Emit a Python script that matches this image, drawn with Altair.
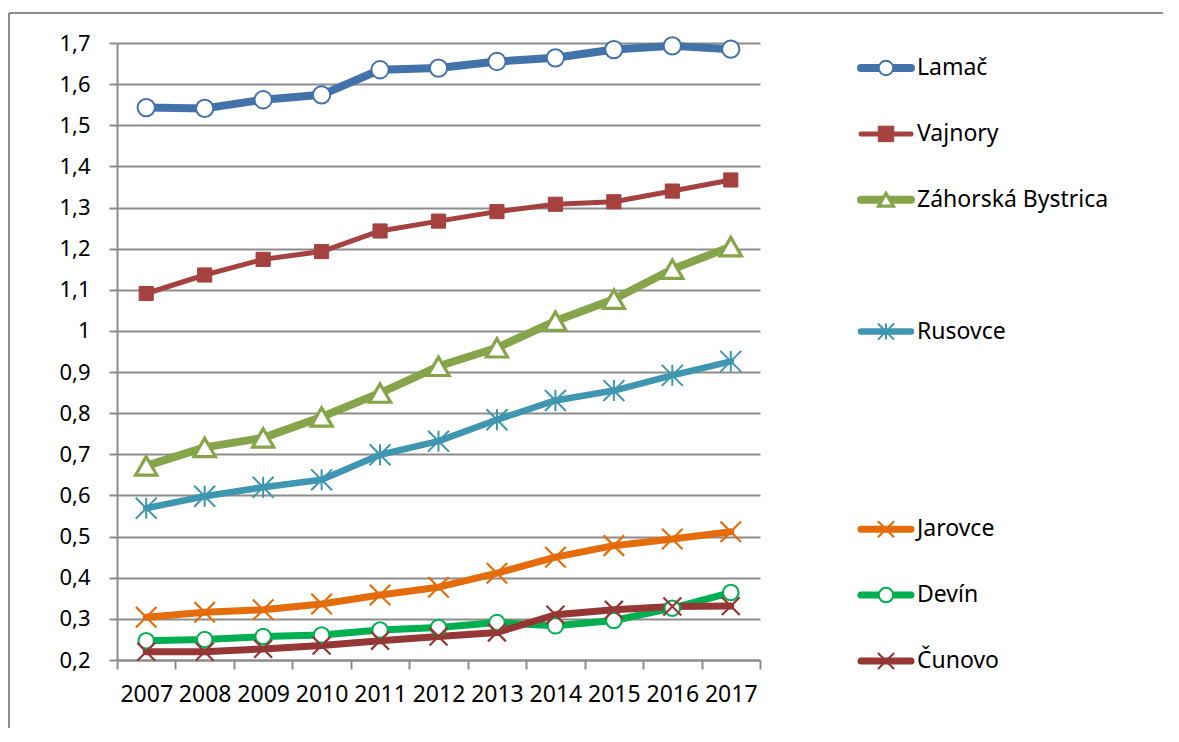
import altair as alt
import pandas as pd

years = ["2007", "2008", "2009", "2010", "2011", "2012", "2013", "2014", "2015", "2016", "2017"]
series_names = ["Lamač", "Vajnory", "Záhorská Bystrica", "Rusovce", "Jarovce", "Devín", "Čunovo"]

lamac = [1.543, 1.541, 1.562, 1.574, 1.635, 1.639, 1.655, 1.664, 1.684, 1.693, 1.685]
vajnory = [1.091, 1.136, 1.174, 1.193, 1.243, 1.267, 1.290, 1.308, 1.314, 1.340, 1.367]
zahorska = [0.672, 0.717, 0.740, 0.791, 0.849, 0.914, 0.959, 1.024, 1.077, 1.150, 1.205]
rusovce = [0.569, 0.598, 0.620, 0.638, 0.699, 0.732, 0.784, 0.831, 0.855, 0.892, 0.926]
jarovce = [0.304, 0.316, 0.322, 0.336, 0.358, 0.377, 0.411, 0.450, 0.478, 0.494, 0.512]
devin = [0.247, 0.250, 0.257, 0.261, 0.273, 0.279, 0.291, 0.283, 0.296, 0.326, 0.364]
cunovo = [0.220, 0.220, 0.227, 0.235, 0.247, 0.257, 0.267, 0.310, 0.322, 0.330, 0.331]

y_ticks = [0.2, 0.3, 0.4, 0.5, 0.6, 0.7, 0.8, 0.9, 1.0, 1.1, 1.2, 1.3, 1.4, 1.5, 1.6, 1.7]
legend_slots = [0, 1, 2, 4, 7, 8, 9]

colors = ["#4272AA", "#A5423F", "#86A54A", "#3E96B0", "#E46C0A", "#00B050", "#953735"]
star = "M0,-1L0,1M-1,-1L1,1M-1,1L1,-1"
xshape = "M-1,-1L1,1M-1,1L1,-1"
shapes = ["circle", "square", "triangle-up", star, xshape, "circle", xshape]
fills = ["#FFFFFF", "#A5423F", "#FFFFFF", "#FFFFFF", "#FFFFFF", "#FFFFFF", "#FFFFFF"]
line_widths = [8, 5, 8, 6.5, 7, 7, 7]
marker_sizes = [300, 200, 450, 440, 420, 240, 320]
legend_marker_sizes = [210, 240, 220, 260, 260, 210, 260]
marker_strokes = [2, 1, 3.2, 2, 2.2, 2, 2.2]

rows = []
for name, vals in zip(series_names, [lamac, vajnory, zahorska, rusovce, jarovce, devin, cunovo]):
    for yr, v in zip(years, vals):
        rows.append({"series": name, "year": yr, "value": v})
df = pd.DataFrame(rows)
leg_df = pd.DataFrame({"series": series_names, "slot": legend_slots})

def sc(rng, kind="ordinal"):
    return alt.Scale(type=kind, domain=series_names, range=rng)

grid_color = "#8C8C8C"

x_enc = alt.X("year:O", scale=alt.Scale(type="band", paddingInner=0, paddingOuter=0),
              axis=alt.Axis(title=None, labelAngle=0, tickBand="extent", tickSize=9,
                            tickColor=grid_color, tickWidth=2, domainColor=grid_color,
                            domainWidth=2, labelFontSize=23, labelPadding=14,
                            labelColor="#000000", grid=False))
y_enc = alt.Y("value:Q", scale=alt.Scale(domain=[0.2, 1.7], nice=False, zero=False),
              axis=alt.Axis(title=None, values=y_ticks,
                            labelExpr="replace(format(datum.value, '.1~f'), '.', ',')",
                            tickSize=8, tickColor=grid_color, tickWidth=2,
                            domainColor=grid_color, domainWidth=2,
                            gridColor=grid_color, gridWidth=2, grid=True,
                            labelFontSize=22, labelPadding=19, labelColor="#000000"))

lines = alt.Chart(df).mark_line(strokeJoin="round", strokeCap="round").encode(
    x=x_enc, y=y_enc,
    color=alt.Color("series:N", scale=alt.Scale(domain=series_names, range=colors), legend=None),
    strokeWidth=alt.StrokeWidth("series:N", scale=sc(line_widths), legend=None),
    detail="series:N",
)
points = alt.Chart(df).mark_point(filled=True, opacity=1).encode(
    x=x_enc, y=y_enc,
    shape=alt.Shape("series:N", scale=alt.Scale(domain=series_names, range=shapes), legend=None),
    fill=alt.Fill("series:N", scale=alt.Scale(domain=series_names, range=fills), legend=None),
    stroke=alt.Stroke("series:N", scale=alt.Scale(domain=series_names, range=colors), legend=None),
    size=alt.Size("series:N", scale=sc(marker_sizes), legend=None),
    strokeWidth=alt.StrokeWidth("series:N", scale=sc(marker_strokes), legend=None),
)
main = alt.layer(lines, points).resolve_scale(strokeWidth="independent")

ly = alt.Y("slot:Q", scale=alt.Scale(domain=[0, 9], range=[25, 618]), axis=None)
leg_line = alt.Chart(leg_df).mark_rule(strokeCap="round").encode(
    x=alt.value(744), x2=alt.value(794), y=ly,
    color=alt.Color("series:N", scale=alt.Scale(domain=series_names, range=colors), legend=None),
    strokeWidth=alt.StrokeWidth("series:N", scale=sc(line_widths), legend=None),
)
leg_pts = alt.Chart(leg_df).mark_point(filled=True, opacity=1).encode(
    x=alt.value(769), y=ly,
    shape=alt.Shape("series:N", scale=alt.Scale(domain=series_names, range=shapes), legend=None),
    fill=alt.Fill("series:N", scale=alt.Scale(domain=series_names, range=fills), legend=None),
    stroke=alt.Stroke("series:N", scale=alt.Scale(domain=series_names, range=colors), legend=None),
    size=alt.Size("series:N", scale=sc(legend_marker_sizes), legend=None),
    strokeWidth=alt.StrokeWidth("series:N", scale=sc(marker_strokes), legend=None),
)
leg_txt = alt.Chart(leg_df).mark_text(align="left", baseline="middle", fontSize=23,
                                      color="#000000").encode(
    x=alt.value(800), y=ly, text="series:N")
legend = alt.layer(leg_line, leg_pts, leg_txt).resolve_scale(strokeWidth="independent")

border_left = alt.Chart(leg_df).mark_rule(color="#8C8C8C", strokeWidth=2).encode(
    x=alt.value(-108), y=alt.value(-30), y2=alt.value(700))
border_top = alt.Chart(leg_df).mark_rule(color="#8C8C8C", strokeWidth=2).encode(
    x=alt.value(-108), x2=alt.value(1060), y=alt.value(-30))

chart = alt.layer(main, legend, border_left, border_top).resolve_scale(
    y="independent", size="independent", strokeWidth="independent"
).properties(
    width=643, height=617,
    autosize=alt.AutoSizeParams(type="none"),
    padding={"left": 109, "top": 35, "right": 403, "bottom": 68},
    background="#FFFFFF",
).configure(font="Noto Sans").configure_view(strokeWidth=0)

chart.save("out.html", embed_options={"renderer": "svg", "actions": False})
